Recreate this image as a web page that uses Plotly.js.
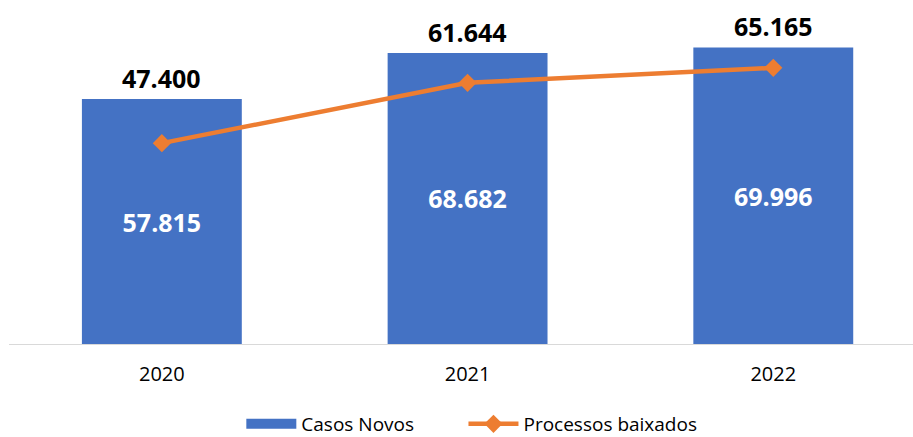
<!DOCTYPE html>
<html>
<head>
<meta charset="utf-8">
<script src="https://cdn.plot.ly/plotly-3.0.1.min.js"></script>
<style>html,body{margin:0;padding:0;background:#fff;}#chart{width:913px;height:437px;}</style>
</head>
<body>
<div id="chart"></div>
<script>
const years = ['2020', '2021', '2022'];
const casosNovos = [57815, 68682, 69996];
const processosBaixados = [47400, 61644, 65165];

const FONT = 'Open Sans, Liberation Sans, sans-serif';
function fmt(v) { return String(v).replace(/\B(?=(\d{3})+(?!\d))/g, '.'); }

const bars = {
  type: 'bar', name: 'Casos Novos', x: years, y: casosNovos,
  marker: {color: '#4472C4'},
  text: casosNovos.map(fmt), textposition: 'inside', insidetextanchor: 'middle',
  textfont: {family: FONT, size: 25, color: '#ffffff', weight: 'bold'},
  showlegend: false, hoverinfo: 'skip'
};
// legend swatch for the bars (wide rectangle like the original)
const barLegend = {
  type: 'scatter', mode: 'lines', name: 'Casos Novos' + '\u00a0'.repeat(9), x: [null], y: [null],
  line: {color: '#4472C4', width: 13}, showlegend: true, hoverinfo: 'skip'
};
const line = {
  type: 'scatter', mode: 'lines+markers', name: 'Processos baixados',
  x: years, y: processosBaixados,
  line: {color: '#ED7D31', width: 4.5},
  marker: {symbol: 'diamond', size: 14, color: '#ED7D31'},
  cliponaxis: false, hoverinfo: 'skip'
};

const annotations = years.map((yr, i) => ({
  x: i, y: casosNovos[i], xref: 'x', yref: 'y',
  text: '<b>' + fmt(processosBaixados[i]) + '</b>',
  showarrow: false, yanchor: 'bottom', yshift: 2,
  font: {family: FONT, size: 25, color: '#000000'}
}));

const layout = {
  width: 913, height: 437,
  margin: {l: 9, r: 0, t: 5, b: 93, autoexpand: false},
  paper_bgcolor: '#ffffff', plot_bgcolor: '#ffffff',
  bargap: 0.477,
  showlegend: true,
  legend: {orientation: 'h', x: 0.257, xanchor: 'left', y: -0.18, yanchor: 'top',
           font: {family: FONT, size: 19, color: '#000000'}, traceorder: 'normal',
           itemwidth: 50},
  xaxis: {type: 'category', range: [-0.5, 2.457], showline: true, linecolor: '#d9d9d9', linewidth: 1,
          showgrid: false, zeroline: false, ticks: '', ticklabelstandoff: 12,
          tickfont: {family: FONT, size: 20, color: '#000000'}},
  yaxis: {range: [0, 80000], visible: false, showgrid: false, zeroline: false},
  annotations: annotations,
  font: {family: FONT}
};

Plotly.newPlot('chart', [bars, barLegend, line], layout, {staticPlot: true, displayModeBar: false});
</script>
</body>
</html>
